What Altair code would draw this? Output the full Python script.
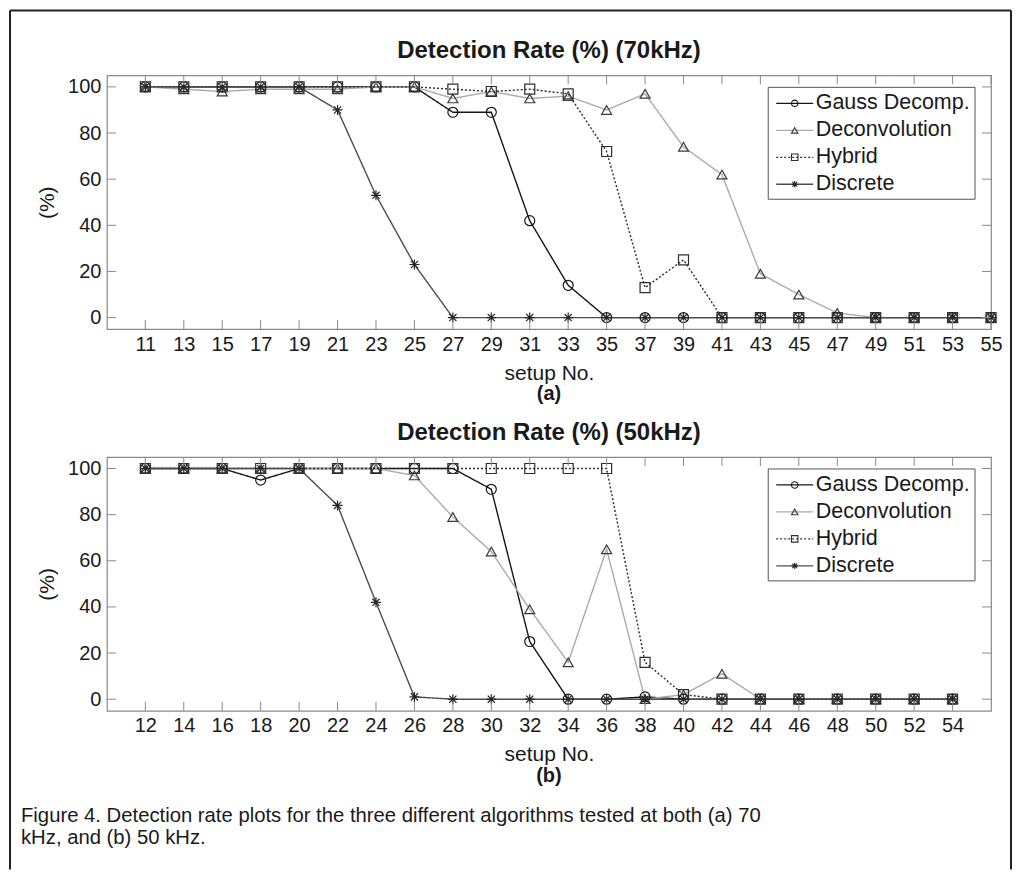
import altair as alt
import pandas as pd

FONT = "Liberation Sans"
TXT = "#1a1a1a"
FRAME = "#8a8a8a"

series = ["Gauss Decomp.", "Deconvolution", "Hybrid", "Discrete"]

# ---- panel (a): 70 kHz ----
setup_a = [11, 13, 15, 17, 19, 21, 23, 25, 27, 29, 31, 33, 35, 37, 39, 41, 43, 45, 47, 49, 51, 53, 55]
gauss_a = [100, 100, 100, 100, 100, 100, 100, 100, 89, 89, 42, 14, 0, 0, 0, 0, 0, 0, 0, 0, 0, 0, 0]
deconv_a = [100, 99, 98, 99, 99, 99, 100, 100, 95, 98, 95, 96, 90, 97, 74, 62, 19, 10, 2, 0, 0, 0, 0]
hybrid_a = [100, 100, 100, 100, 100, 100, 100, 100, 99, 98, 99, 97, 72, 13, 25, 0, 0, 0, 0, 0, 0, 0, 0]
discrete_a = [100, 100, 100, 100, 100, 90, 53, 23, 0, 0, 0, 0, 0, 0, 0, 0, 0, 0, 0, 0, 0, 0, 0]

# ---- panel (b): 50 kHz ----
setup_b = [12, 14, 16, 18, 20, 22, 24, 26, 28, 30, 32, 34, 36, 38, 40, 42, 44, 46, 48, 50, 52, 54]
gauss_b = [100, 100, 100, 95, 100, 100, 100, 100, 100, 91, 25, 0, 0, 1, 0, 0, 0, 0, 0, 0, 0, 0]
deconv_b = [100, 100, 100, 100, 100, 100, 100, 97, 79, 64, 39, 16, 65, 0, 2, 11, 0, 0, 0, 0, 0, 0]
hybrid_b = [100, 100, 100, 100, 100, 100, 100, 100, 100, 100, 100, 100, 100, 16, 2, 0, 0, 0, 0, 0, 0, 0]
discrete_b = [100, 100, 100, 100, 100, 84, 42, 1, 0, 0, 0, 0, 0, 0, 0, 0, 0, 0, 0, 0, 0, 0]

y_ticks = [0, 20, 40, 60, 80, 100]

title_a = "Detection Rate (%) (70kHz)"
title_b = "Detection Rate (%) (50kHz)"
caption_1 = "Figure 4. Detection rate plots for the three different algorithms tested at both (a) 70"
caption_2 = "kHz, and (b) 50 kHz."

# styles
line_colors = ["#161616", "#ababab", "#2e2e2e", "#4d4d4d"]
marker_colors = ["#161616", "#3a3a3a", "#2e2e2e", "#262626"]
ASTERISK = "M-1,0L1,0M0,-1L0,1M-0.72,-0.72L0.72,0.72M-0.72,0.72L0.72,-0.72"
shapes = ["circle", "triangle-up", "square", ASTERISK]
dashes = [[1, 0], [1, 0], [2, 2], [1, 0]]
msizes = [100, 100, 49, 64]

W, H = 885, 254
TICK = 9
ys = alt.Scale(domain=[-5, 105], nice=False, zero=False)


def color_enc():
    return alt.Color("series:N", scale=alt.Scale(domain=series, range=line_colors), legend=None)


def stroke_enc():
    return alt.Stroke("series:N", scale=alt.Scale(domain=series, range=marker_colors), legend=None)


def shape_enc():
    return alt.Shape("series:N", scale=alt.Scale(domain=series, range=shapes), legend=None)


def dash_enc():
    return alt.StrokeDash("series:N", scale=alt.Scale(domain=series, range=dashes), legend=None)


def size_enc():
    return alt.Size("series:N", scale=alt.Scale(domain=series, range=msizes), legend=None)


def make_df(setups, cols):
    rows = []
    for name, vals in zip(series, cols):
        for s, v in zip(setups, vals):
            rows.append({"setup": s, "rate": v, "series": name})
    return pd.DataFrame(rows)


one = pd.DataFrame({"k": [0]})


def panel(setups, cols, xdomain, title, tag, leg_y, box_y, extra):
    df = make_df(setups, cols)
    xs = alt.Scale(domain=xdomain, nice=False, zero=False)

    def xaxis():
        return alt.Axis(values=setups, title="setup No.", labelFlush=False, labelOverlap=False,
                        titlePadding=8, labelPadding=5, orient="bottom")

    base = alt.Chart(df)
    lines = base.mark_line(strokeWidth=1.4).encode(
        x=alt.X("setup:Q", scale=xs, axis=xaxis()),
        y=alt.Y("rate:Q", scale=ys, axis=alt.Axis(values=y_ticks, title="(%)", labelFlush=False,
                                                  titlePadding=10, labelPadding=6)),
        color=color_enc(), strokeDash=dash_enc())
    pts = base.mark_point(filled=False, strokeWidth=1.2, opacity=1).encode(
        x=alt.X("setup:Q", scale=xs, axis=xaxis()),
        y=alt.Y("rate:Q", scale=ys, axis=None),
        shape=shape_enc(), stroke=stroke_enc(), size=size_enc())

    tdf = pd.DataFrame({"setup": setups})
    xt_bot = alt.Chart(tdf).mark_rule(color=FRAME, strokeWidth=1).encode(
        x=alt.X("setup:Q", scale=xs, axis=xaxis()), y=alt.value(H), y2=alt.value(H - TICK))
    xt_top = alt.Chart(tdf).mark_rule(color=FRAME, strokeWidth=1).encode(
        x=alt.X("setup:Q", scale=xs, axis=xaxis()), y=alt.value(0), y2=alt.value(TICK))
    ydf = pd.DataFrame({"v": y_ticks})
    ty = alt.Y("v:Q", scale=ys, axis=None)
    yt_l = alt.Chart(ydf).mark_rule(color=FRAME, strokeWidth=1).encode(
        y=ty, x=alt.value(0), x2=alt.value(TICK))
    yt_r = alt.Chart(ydf).mark_rule(color=FRAME, strokeWidth=1).encode(
        y=ty, x=alt.value(W), x2=alt.value(W - TICK))

    ldf = pd.DataFrame({"series": series})
    LY = alt.Y("series:N", scale=alt.Scale(type="point", domain=series, range=leg_y, padding=0),
               axis=None)
    box = alt.Chart(one).mark_rect(fill="white", stroke="#555555", strokeWidth=1).encode(
        x=alt.value(662), x2=alt.value(869), y=alt.value(box_y[0]), y2=alt.value(box_y[1]))
    leg_line = alt.Chart(ldf).mark_rule(strokeWidth=1.3).encode(
        x=alt.value(670), x2=alt.value(707), y=LY, color=color_enc(), strokeDash=dash_enc())
    leg_pt = alt.Chart(ldf).mark_point(filled=False, size=42, strokeWidth=1.1, opacity=1).encode(
        x=alt.value(688.5), y=LY, shape=shape_enc(), stroke=stroke_enc())
    leg_txt = alt.Chart(ldf).mark_text(align="left", baseline="middle", font=FONT, fontSize=21.5,
                                       color=TXT).encode(x=alt.value(709.5), y=LY, text="series:N")

    ttl = alt.Chart(one).mark_text(font=FONT, fontSize=24, fontWeight="bold", color=TXT,
                                   baseline="middle").encode(
        x=alt.value(W / 2), y=alt.value(-24), text=alt.value(title))
    tagm = alt.Chart(one).mark_text(font=FONT, fontSize=20, fontWeight="bold", color=TXT,
                                    baseline="middle").encode(
        x=alt.value(W / 2), y=alt.value(H + 65), text=alt.value(tag))

    layers = [lines, pts, xt_bot, xt_top, yt_l, yt_r, box, leg_line, leg_pt, leg_txt, ttl, tagm] + extra
    return alt.layer(*layers).resolve_scale(y="independent").properties(width=W, height=H)


# figure frame (decoration) drawn relative to the top panel
BL, BT, BR, BB = -97, -65, 905, 795
border = [
    alt.Chart(one).mark_rule(color="#222222", strokeWidth=2).encode(
        x=alt.value(BL), y=alt.value(BT), y2=alt.value(BB)),
    alt.Chart(one).mark_rule(color="#222222", strokeWidth=2).encode(
        x=alt.value(BR), y=alt.value(BT), y2=alt.value(BB)),
    alt.Chart(one).mark_rule(color="#222222", strokeWidth=2).encode(
        y=alt.value(BT), x=alt.value(BL), x2=alt.value(BR)),
]

caption = [
    alt.Chart(one).mark_text(font=FONT, fontSize=20.3, color=TXT, align="left", baseline="middle").encode(
        x=alt.value(-86), y=alt.value(359), text=alt.value(caption_1)),
    alt.Chart(one).mark_text(font=FONT, fontSize=20.3, color=TXT, align="left", baseline="middle").encode(
        x=alt.value(-86), y=alt.value(381), text=alt.value(caption_2)),
]

top = panel(setup_a, [gauss_a, deconv_a, hybrid_a, discrete_a], [9, 55], title_a, "(a)",
            [28, 109], [12, 124], border)
bottom = panel(setup_b, [gauss_b, deconv_b, hybrid_b, discrete_b], [10, 56], title_b, "(b)",
               [28, 109], [12, 124], caption)

chart = alt.vconcat(top, bottom, spacing=128, bounds="flush").properties(
    padding=0, background="white"
).configure_view(stroke=FRAME, strokeWidth=1.2).configure_axis(
    labelFont=FONT, titleFont=FONT, labelFontSize=20, titleFontSize=21,
    labelColor=TXT, titleColor=TXT, titleFontWeight="normal",
    ticks=False, domain=False, grid=False
)

chart.save("out.html", embed_options={"renderer": "svg", "actions": False})
